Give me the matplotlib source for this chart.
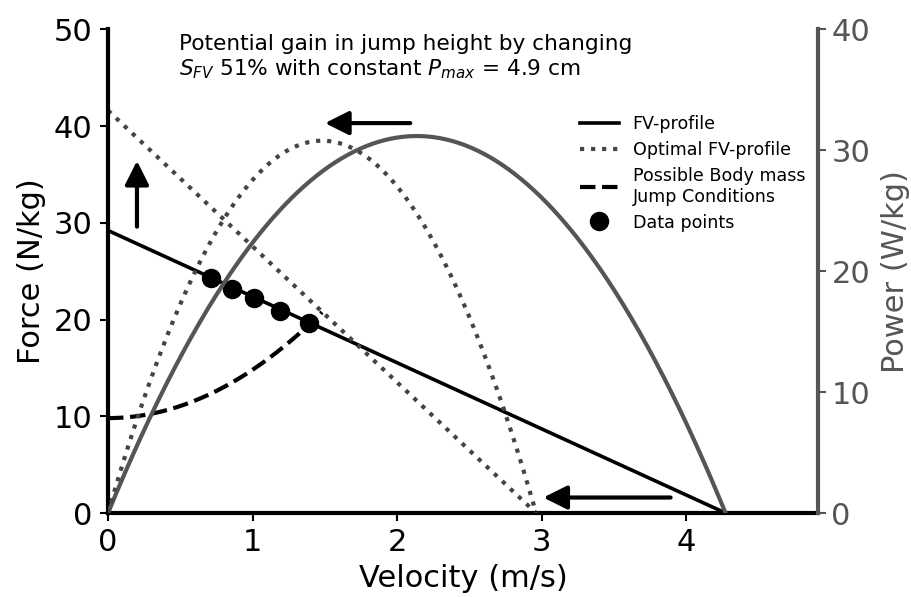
import numpy as np
import matplotlib.pyplot as plt

# ===============================
# Force-velocity profile values
# ===============================
fv_F0 = 29.2      # N/kg
fv_V0 = 4.27      # m/s
opt_F0 = 41.6     # N/kg
opt_V0 = 2.96     # m/s

# body mass jump conditions: F = g + v^2 / (2 * hpo)
g = 9.81
hpo = 0.1
bm_v_max = 1.48

# measured jumps
data_velocity = [0.71, 0.86, 1.01, 1.19, 1.39]
data_force = [24.3, 23.2, 22.2, 20.9, 19.6]

x_ticks = [0, 1, 2, 3, 4]
force_ticks = [0, 10, 20, 30, 40, 50]
power_ticks = [0, 10, 20, 30, 40]

grey = "#555555"
dot_grey = "#444444"

fig = plt.figure(figsize=(9.11, 5.97), dpi=100)
ax = fig.add_axes([0.1186, 0.1407, 0.7794, 0.8103])
ax2 = ax.twinx()

v_fv = np.linspace(0, fv_V0, 300)
f_fv = fv_F0 * (1 - v_fv / fv_V0)
v_opt = np.linspace(0, opt_V0, 300)
f_opt = opt_F0 * (1 - v_opt / opt_V0)
v_bm = np.linspace(0, bm_v_max, 200)
f_bm = g + v_bm ** 2 / (2 * hpo)

l_fv, = ax.plot(v_fv, f_fv, color="k", lw=2.6, label="FV-profile")
l_opt, = ax.plot(v_opt, f_opt, color=dot_grey, lw=3, ls=":", label="Optimal FV-profile")
l_bm, = ax.plot(v_bm, f_bm, color="k", lw=3, ls="--", label="Possible Body mass\nJump Conditions")
l_pts, = ax.plot(data_velocity, data_force, "o", color="k", ms=13, zorder=5, label="Data points")

# power curves on the right axis
ax2.plot(v_fv, f_fv * v_fv, color=grey, lw=3)
ax2.plot(v_opt, f_opt * v_opt, color=dot_grey, lw=3, ls=":")

# arrows showing the direction of change
arrow_style = dict(arrowstyle="-|>", mutation_scale=36, lw=3, color="k", shrinkA=0, shrinkB=0)
ax.annotate("", xy=(0.2, 36.4), xytext=(0.2, 29.6), arrowprops=arrow_style)
ax.annotate("", xy=(1.50, 40.3), xytext=(2.09, 40.3), arrowprops=arrow_style)
ax.annotate("", xy=(3.01, 1.6), xytext=(3.89, 1.6), arrowprops=arrow_style)

ax.text(0.1, 0.99, "Potential gain in jump height by changing\n"
        "$S_{FV}$ 51% with constant $P_{max}$ = 4.9 cm",
        transform=ax.transAxes, ha="left", va="top", fontsize=15.6, linespacing=1.2)

ax.set_xlim(0, 4.91)
ax.set_ylim(0, 50)
ax2.set_ylim(0, 40)
ax.set_xticks(x_ticks)
ax.set_yticks(force_ticks)
ax2.set_yticks(power_ticks)

ax.set_xlabel("Velocity (m/s)", fontsize=22, labelpad=5)
ax.set_ylabel("Force (N/kg)", fontsize=22, labelpad=6)
ax2.set_ylabel("Power (W/kg)", fontsize=22, color=grey, labelpad=8)

ax.tick_params(labelsize=22, width=1.5, length=6, pad=5)
ax2.tick_params(labelsize=22, width=1.5, length=6, colors=grey)

ax.spines["top"].set_visible(False)
ax.spines["right"].set_visible(False)
ax.spines["left"].set_linewidth(3)
ax.spines["bottom"].set_linewidth(3)
ax2.spines["top"].set_visible(False)
ax2.spines["left"].set_visible(False)
ax2.spines["bottom"].set_visible(False)
ax2.spines["right"].set_linewidth(3)
ax2.spines["right"].set_color(grey)

ax2.legend(handles=[l_fv, l_opt, l_bm, l_pts], loc="upper left", bbox_to_anchor=(0.655, 0.837),
           frameon=False, fontsize=12.6, handlelength=2.2, labelspacing=0.45, borderaxespad=0)

plt.savefig("out.png", dpi=100)
